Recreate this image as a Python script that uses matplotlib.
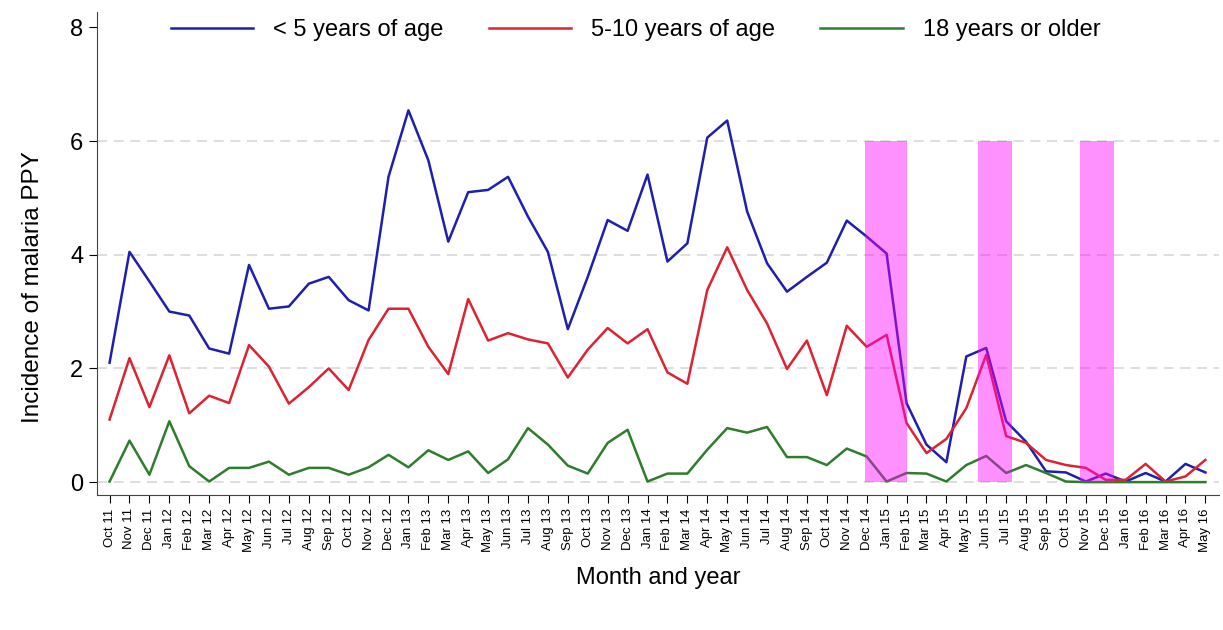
import matplotlib.pyplot as plt

plt.rcParams['font.family'] = ['Liberation Sans', 'DejaVu Sans']

# months from Oct 2011 to May 2016
months = ['Oct 11', 'Nov 11', 'Dec 11',
          'Jan 12', 'Feb 12', 'Mar 12', 'Apr 12', 'May 12', 'Jun 12',
          'Jul 12', 'Aug 12', 'Sep 12', 'Oct 12', 'Nov 12', 'Dec 12',
          'Jan 13', 'Feb 13', 'Mar 13', 'Apr 13', 'May 13', 'Jun 13',
          'Jul 13', 'Aug 13', 'Sep 13', 'Oct 13', 'Nov 13', 'Dec 13',
          'Jan 14', 'Feb 14', 'Mar 14', 'Apr 14', 'May 14', 'Jun 14',
          'Jul 14', 'Aug 14', 'Sep 14', 'Oct 14', 'Nov 14', 'Dec 14',
          'Jan 15', 'Feb 15', 'Mar 15', 'Apr 15', 'May 15', 'Jun 15',
          'Jul 15', 'Aug 15', 'Sep 15', 'Oct 15', 'Nov 15', 'Dec 15',
          'Jan 16', 'Feb 16', 'Mar 16', 'Apr 16', 'May 16']

under5 = [2.10, 4.05, 3.53, 3.00, 2.93, 2.35, 2.26, 3.82, 3.05, 3.09,
          3.49, 3.61, 3.20, 3.02, 5.37, 6.54, 5.66, 4.23, 5.10, 5.14,
          5.37, 4.67, 4.05, 2.69, 3.61, 4.61, 4.42, 5.41, 3.88, 4.20,
          6.06, 6.36, 4.76, 3.85, 3.35, 3.61, 3.86, 4.60, 4.32, 4.02,
          1.39, 0.66, 0.35, 2.21, 2.36, 1.07, 0.71, 0.19, 0.17, 0.01,
          0.15, 0.01, 0.16, 0.01, 0.32, 0.17]

age5_10 = [1.10, 2.18, 1.32, 2.23, 1.21, 1.52, 1.39, 2.41, 2.03, 1.38,
           1.67, 2.00, 1.62, 2.50, 3.05, 3.05, 2.38, 1.90, 3.22, 2.49,
           2.62, 2.51, 2.44, 1.84, 2.33, 2.71, 2.44, 2.69, 1.93, 1.73,
           3.38, 4.13, 3.38, 2.79, 1.99, 2.49, 1.53, 2.75, 2.38, 2.59,
           1.04, 0.51, 0.76, 1.30, 2.24, 0.81, 0.69, 0.39, 0.30, 0.25,
           0.04, 0.04, 0.32, 0.01, 0.10, 0.39]

adults = [0.01, 0.73, 0.13, 1.07, 0.28, 0.01, 0.25, 0.25, 0.36, 0.13,
          0.25, 0.25, 0.13, 0.26, 0.48, 0.26, 0.56, 0.39, 0.54, 0.16,
          0.40, 0.95, 0.66, 0.29, 0.15, 0.69, 0.92, 0.01, 0.15, 0.15,
          0.57, 0.95, 0.87, 0.97, 0.44, 0.44, 0.30, 0.59, 0.45, 0.01,
          0.16, 0.15, 0.01, 0.30, 0.46, 0.16, 0.30, 0.16, 0.01, 0.0,
          0.0, 0.0, 0.0, 0.0, 0.0, 0.0]

# shaded periods (start, end) in month index
bands = [(37.9, 40.0), (43.6, 45.3), (48.7, 50.4)]

fig = plt.figure(figsize=(12.23, 6.3), dpi=100)
ax = fig.add_axes([0.079, 0.214, 0.918, 0.767])

x = list(range(len(months)))
ax.plot(x, under5, color='#1f1fae', lw=1.8, label='< 5 years of age')
ax.plot(x, age5_10, color='#dc2332', lw=1.8, label='5-10 years of age')
ax.plot(x, adults, color='#2e7d2e', lw=1.8, label='18 years or older')

for b0, b1 in bands:
    ax.fill_between([b0, b1], 0, 6, color='#ff00ff', alpha=0.43,
                    lw=0, zorder=5)

ax.set_xlim(-0.65, 55.7)
ax.set_ylim(-0.23, 8.27)
ax.set_yticks([0, 2, 4, 6, 8])
ax.set_xticks(x)
ax.set_xticklabels(months, rotation=90, fontsize=9.5)
ax.tick_params(axis='y', labelsize=17, length=6)
ax.tick_params(axis='x', length=6)

for g in [0, 2, 4, 6]:
    ax.axhline(g, color='#d8d8d8', lw=1.2, ls=(0, (6, 4)), zorder=0)

ax.spines['top'].set_visible(False)
ax.spines['right'].set_visible(False)
ax.spines['left'].set_color('#444444')
ax.spines['bottom'].set_color('#444444')

ax.set_ylabel('Incidence of malaria PPY', fontsize=17.5)
ax.yaxis.set_label_coords(-0.047, 0.43)
ax.set_xlabel('Month and year', fontsize=17, labelpad=11)

ax.legend(loc='center', bbox_to_anchor=(0.48, 0.963), ncol=3,
          frameon=False, fontsize=17, handlelength=3.5, handletextpad=0.85,
          columnspacing=1.9)

fig.savefig('out.png', dpi=100)
